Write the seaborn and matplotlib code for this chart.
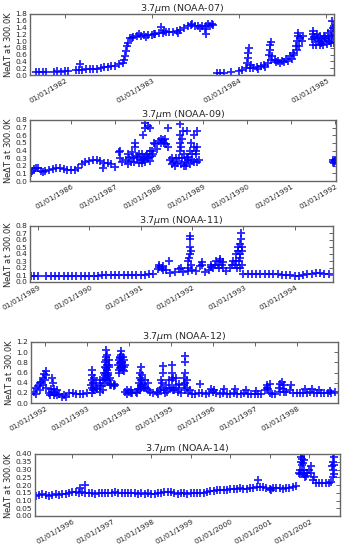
import numpy as np
import pandas as pd
import matplotlib
matplotlib.use('Agg')
import matplotlib.pyplot as plt
import matplotlib.dates as mdates
import matplotlib.transforms as mtransforms
from matplotlib.ticker import MultipleLocator, FormatStrFormatter
import seaborn as sns

nan = np.nan

# NOAA-07, sampled twice a month (1st and 15th) from 1981-09-01
n07_start = '1981-09-01'
n07_vals = [
    0.09, 0.08, 0.09, 0.09, nan, 0.10, 0.11, 0.10,                       # 1981 Sep-Dec
    0.11, 0.12, nan, 0.14, 0.15, 0.16, 0.17, 0.17, 0.18, 0.19, 0.20, 0.24,
    0.25, 0.26, 0.28, 0.32, 0.36, 0.70, 1.08, 1.13, 1.15, 1.16, 1.17, 1.17,  # 1982
    1.18, 1.20, 1.24, 1.25, 1.26, 1.27, 1.27, 1.30, 1.33, 1.40, 1.45, 1.47,
    1.46, 1.44, 1.45, 1.44, 1.45, 1.47, 0.07, 0.06, 0.06, nan, 0.08, nan,    # 1983
    0.12, 0.16, 0.22, 0.22, 0.22, 0.23, 0.26, 0.30, 0.35, 0.45, 0.45, 0.42,
    0.42, 0.47, 0.55, 0.65, 0.75, 1.10, nan, nan, 1.05, 1.05, 1.00, 1.00,    # 1984
    1.05, 1.10, 1.15,                                                    # 1985
]
n07_extra_t = ['1982-03-07', '1982-09-08', '1982-09-10', '1982-09-20', '1982-09-24',
               '1982-10-08', '1982-11-08', '1982-12-08', '1983-01-08', '1983-02-10',
               '1983-02-20', '1983-04-20', '1983-06-20', '1983-07-20', '1983-08-10',
               '1983-08-15', '1983-08-25', '1983-09-10',
               '1984-02-05', '1984-02-08', '1984-02-10', '1984-02-12', '1984-02-20',
               '1984-05-08', '1984-05-10', '1984-05-12', '1984-05-14', '1984-05-20',
               '1984-06-05', '1984-07-10', '1984-08-10', '1984-08-20', '1984-08-28',
               '1984-09-01', '1984-09-03', '1984-09-05', '1984-09-10', '1984-09-20',
               '1984-09-25', '1984-11-05', '1984-11-06', '1984-11-08', '1984-11-20',
               '1984-11-22', '1984-12-05', '1984-12-08', '1984-12-20', '1984-12-22',
               '1985-01-05', '1985-01-08', '1985-01-20', '1985-01-22', '1985-01-25',
               '1985-01-28', '1985-02-01', '1985-02-02',
               '1984-11-10', '1984-11-28', '1984-12-12', '1984-12-28', '1985-01-12',
               '1985-01-26', '1984-06-20', '1984-07-25', '1984-03-20', '1984-04-20']
n07_extra_v = [0.33, 0.45, 0.55, 0.85, 0.95,
               1.10, 1.20, 1.12, 1.22, 1.43,
               1.30, 1.25, 1.50, 1.40, 1.35,
               1.20, 1.50, 1.50,
               0.35, 0.50, 0.65, 0.80, 0.30,
               0.60, 0.75, 0.90, 0.98, 0.55,
               0.38, 0.38, 0.48, 0.60, 0.85,
               1.00, 1.15, 1.25, 0.85, 1.00,
               1.15, 0.90, 1.20, 1.30, 0.90,
               1.20, 0.88, 1.15, 0.90, 1.15,
               0.92, 1.25, 0.95, 1.30, 1.60,
               1.40, 0.95, 1.45,
               1.12, 1.10, 0.95, 1.08, 1.00,
               1.15, 0.36, 0.40, 0.19, 0.24]

# NOAA-09, monthly from 1985-02-01
n09_start = '1985-02-01'
n09_vals = [
    0.10, 0.16, 0.17, 0.13, 0.13, 0.14, 0.16, 0.17, 0.17, 0.16, 0.15,        # 1985
    0.14, 0.15, 0.17, 0.22, 0.25, 0.26, 0.28, 0.28, 0.26, 0.24, 0.23, 0.22,  # 1986
    0.19, 0.38, 0.25, 0.27, 0.30, 0.32, 0.30, 0.28, 0.30, 0.32, 0.40, 0.48,  # 1987
    0.53, 0.54, 0.48, 0.27, 0.25, 0.24, 0.45, 0.25, 0.28, 0.35, 0.35,        # 1988
]
n09_extra_t = ['1985-02-15', '1985-03-15', '1985-05-15', '1986-09-20',
               '1987-02-10', '1987-02-12', '1987-04-15', '1987-04-20', '1987-05-15',
               '1987-05-20', '1987-06-10', '1987-06-15', '1987-06-20', '1987-07-15',
               '1987-07-20', '1987-08-10', '1987-08-15', '1987-08-20', '1987-09-05',
               '1987-09-08', '1987-09-10', '1987-09-25', '1987-09-28', '1987-10-15',
               '1987-10-18', '1987-10-20', '1987-11-15', '1987-11-18', '1987-12-15',
               '1988-01-15', '1988-01-18', '1988-02-15', '1988-02-18', '1988-03-15',
               '1988-03-18', '1988-04-15', '1988-04-18', '1988-05-15', '1988-05-18',
               '1988-06-18', '1988-06-20', '1988-06-22', '1988-06-24', '1988-06-26',
               '1988-07-10', '1988-07-12', '1988-07-14', '1988-07-25', '1988-07-28',
               '1988-08-15', '1988-08-18', '1988-08-20', '1988-09-15', '1988-09-18',
               '1988-09-20', '1988-10-15', '1988-10-18', '1988-10-20', '1988-11-10',
               '1988-11-12', '1988-11-14', '1988-11-25',
               '1991-12-15', '1991-12-17', '1991-12-25', '1991-12-27', '1992-01-01',
               '1987-07-05', '1987-08-25', '1987-09-15', '1987-10-05', '1987-11-01',
               '1988-06-28', '1988-09-01', '1988-10-01', '1988-11-01']
n09_extra_v = [0.13, 0.17, 0.12, 0.17,
               0.30, 0.40, 0.22, 0.35, 0.25,
               0.38, 0.25, 0.45, 0.50, 0.24,
               0.36, 0.23, 0.35, 0.60, 0.25,
               0.70, 0.76, 0.36, 0.72, 0.26,
               0.40, 0.70, 0.35, 0.50, 0.42,
               0.50, 0.55, 0.50, 0.55, 0.45,
               0.70, 0.22, 0.30, 0.20, 0.30,
               0.30, 0.40, 0.50, 0.60, 0.75,
               0.30, 0.55, 0.65, 0.20, 0.35,
               0.20, 0.30, 0.65, 0.22, 0.40,
               0.50, 0.25, 0.45, 0.60, 0.25,
               0.45, 0.65, 0.28,
               0.25, 0.28, 0.24, 0.27, 0.26,
               0.33, 0.28, 0.33, 0.30, 0.33,
               0.22, 0.32, 0.28, 0.40]

# NOAA-11, monthly from 1988-12-01
n11_start = '1988-12-01'
n11_vals = [
    0.09,                                                                    # 1988 Dec
    0.09, nan, 0.08, 0.08, 0.08, 0.08, 0.08, 0.08, 0.09, 0.09, 0.09, 0.09,   # 1989
    0.09, 0.09, 0.09, 0.10, 0.10, 0.10, 0.10, 0.10, 0.10, 0.10, 0.10, 0.10,  # 1990
    0.10, 0.10, 0.11, 0.12, 0.18, 0.20, 0.17, 0.13, 0.14, 0.18, 0.14, 0.16,  # 1991
    0.17, 0.16, 0.23, 0.15, 0.17, 0.20, 0.24, 0.25, 0.16, 0.20, 0.25, 0.30,  # 1992
    0.12, 0.11, 0.11, 0.11, 0.11, 0.11, 0.11, 0.11, 0.11, 0.10, 0.10, 0.10,  # 1993
    0.09, 0.09, 0.10, 0.11, 0.12, 0.13, 0.13, 0.12, 0.11,                    # 1994
]
n11_extra_t = ['1988-11-10', '1991-05-10', '1991-05-12', '1991-06-10', '1991-06-12',
               '1991-07-20', '1991-10-15', '1991-12-05', '1991-12-07', '1991-12-09',
               '1991-12-15', '1991-12-16', '1991-12-17', '1991-12-18', '1991-12-25',
               '1991-12-27', '1992-03-10', '1992-03-12', '1992-05-15', '1992-05-18',
               '1992-06-15', '1992-06-18', '1992-07-15', '1992-07-18', '1992-07-20',
               '1992-08-10', '1992-08-12', '1992-10-15', '1992-10-18', '1992-11-10',
               '1992-11-12', '1992-11-20', '1992-11-22', '1992-11-24', '1992-12-08',
               '1992-12-09', '1992-12-10', '1992-12-11', '1992-12-12', '1992-12-13',
               '1992-12-20', '1992-12-22', '1992-12-24']
n11_extra_v = [0.09, 0.22, 0.25, 0.17, 0.23,
               0.30, 0.20, 0.20, 0.30, 0.35,
               0.40, 0.50, 0.62, 0.66, 0.25,
               0.45, 0.25, 0.28, 0.22, 0.25,
               0.25, 0.30, 0.20, 0.30, 0.33,
               0.20, 0.28, 0.25, 0.30, 0.30,
               0.40, 0.20, 0.45, 0.50, 0.20,
               0.35, 0.40, 0.55, 0.62, 0.70,
               0.25, 0.45, 0.50]

# NOAA-12, monthly from 1991-09-01
n12_start = '1991-09-01'
n12_vals = [
    0.17, 0.22, 0.33, 0.42,                                                  # 1991
    0.45, 0.20, 0.22, 0.20, 0.17, 0.12, 0.12, 0.20, 0.20, 0.17, 0.17, 0.18,  # 1992
    0.20, 0.35, 0.25, 0.28, 0.33, 0.60, 0.60, 0.35, 0.36, 0.75, 0.80, 0.22,  # 1993
    0.22, 0.20, 0.22, 0.40, 0.38, 0.30, 0.22, 0.20, 0.22, 0.25, 0.25, 0.22,  # 1994
    0.30, 0.25, 0.22, 0.20, 0.25, 0.20, 0.18, 0.18, 0.20, 0.19, 0.18, 0.20,  # 1995
    0.22, 0.20, 0.18, 0.19, 0.18, 0.18, 0.19, 0.17, 0.18, 0.19, 0.18, 0.17,  # 1996
    0.18, 0.17, 0.18, 0.25, 0.27, 0.18, 0.17, 0.30, 0.28, 0.22, 0.25, 0.20,  # 1997
    0.19, 0.20, 0.20, 0.20, 0.21, 0.20, 0.20, 0.20, 0.20, 0.20, 0.20, 0.21,  # 1998
]
n12_extra_t = ['1991-10-15', '1991-10-18', '1991-11-15', '1991-11-18', '1991-12-15',
               '1991-12-17', '1991-12-19', '1992-01-10', '1992-01-12', '1992-01-14',
               '1992-02-15', '1992-02-18', '1992-03-05', '1992-03-07', '1992-03-20',
               '1992-03-22', '1992-04-15', '1992-04-18', '1992-06-15',
               '1993-02-10', '1993-02-11', '1993-02-12', '1993-02-13', '1993-02-25',
               '1993-02-27', '1993-03-20', '1993-03-22', '1993-04-20', '1993-04-21',
               '1993-04-22', '1993-05-20', '1993-05-22',
               '1993-06-08', '1993-06-09', '1993-06-10', '1993-06-11', '1993-06-12',
               '1993-06-13', '1993-06-20', '1993-06-21', '1993-06-22', '1993-07-10',
               '1993-07-11', '1993-07-12', '1993-07-20', '1993-07-22', '1993-08-20',
               '1993-08-22', '1993-10-10', '1993-10-11', '1993-10-12', '1993-10-20',
               '1993-10-21', '1993-10-22', '1993-11-10', '1993-11-12', '1993-11-20',
               '1993-11-22', '1993-12-15', '1993-12-17', '1994-01-15', '1994-01-17',
               '1994-03-15', '1994-03-17',
               '1994-04-10', '1994-04-11', '1994-04-12', '1994-04-13', '1994-04-20',
               '1994-04-22', '1994-05-15', '1994-05-17', '1994-06-15', '1994-06-17',
               '1994-09-15', '1994-10-10', '1994-10-12', '1994-10-20', '1994-10-21',
               '1994-10-22', '1994-11-15', '1994-11-17', '1994-12-15', '1994-12-17',
               '1995-01-10', '1995-01-11', '1995-01-12', '1995-01-20', '1995-01-22',
               '1995-02-15', '1995-02-17', '1995-03-15', '1995-03-17', '1995-04-25',
               '1995-04-27', '1995-05-05', '1995-05-06', '1995-05-07', '1995-05-08',
               '1995-05-20', '1995-05-22',
               '1995-06-15', '1995-09-10', '1995-12-15', '1996-01-15', '1996-04-10',
               '1996-07-15', '1996-10-15', '1997-01-15', '1997-04-15', '1997-04-17',
               '1997-05-15', '1997-05-17', '1997-08-10', '1997-08-12', '1997-08-25',
               '1997-09-15', '1997-09-17', '1997-11-10', '1998-03-15', '1998-05-15',
               '1998-07-15', '1998-10-15',
               '1993-06-05', '1993-06-15', '1993-06-16', '1993-06-17', '1993-06-25',
               '1993-07-05', '1993-07-15', '1993-10-05', '1993-10-15', '1993-10-16',
               '1993-10-17', '1993-10-25', '1993-11-05', '1993-11-15', '1993-11-25',
               '1993-02-15', '1993-02-18', '1994-04-15', '1994-04-17', '1994-04-25']
n12_extra_v = [0.18, 0.30, 0.25, 0.40, 0.35,
               0.50, 0.58, 0.30, 0.55, 0.62,
               0.15, 0.27, 0.50, 0.40, 0.15,
               0.28, 0.15, 0.25, 0.15,
               0.20, 0.45, 0.55, 0.65, 0.25,
               0.50, 0.30, 0.40, 0.22, 0.35,
               0.45, 0.25, 0.45,
               0.40, 0.50, 0.70, 0.80, 0.90,
               1.05, 0.45, 0.75, 0.95, 0.45,
               0.70, 0.85, 0.35, 0.50, 0.33,
               0.37, 0.65, 0.85, 0.90, 0.70,
               0.95, 1.03, 0.65, 0.90, 0.70,
               0.85, 0.18, 0.25, 0.20, 0.25,
               0.20, 0.28,
               0.25, 0.50, 0.60, 0.70, 0.30,
               0.55, 0.30, 0.45, 0.25, 0.40,
               0.18, 0.30, 0.45, 0.40, 0.60,
               0.73, 0.20, 0.35, 0.30, 0.45,
               0.45, 0.60, 0.75, 0.25, 0.50,
               0.35, 0.50, 0.30, 0.38, 0.35,
               0.50, 0.40, 0.60, 0.80, 0.92,
               0.30, 0.45,
               0.25, 0.37, 0.28, 0.25, 0.28,
               0.27, 0.26, 0.24, 0.30, 0.35,
               0.20, 0.37, 0.22, 0.38, 0.41,
               0.22, 0.35, 0.35, 0.27, 0.27,
               0.25, 0.23,
               0.55, 0.60, 0.68, 0.85, 0.65,
               0.55, 0.75, 0.60, 0.68, 0.78,
               0.88, 0.80, 0.72, 0.62, 0.75,
               0.30, 0.40, 0.35, 0.45, 0.33]

# NOAA-14, monthly from 1995-02-01
n14_start = '1995-02-01'
n14_vals = [
    0.130, 0.135, 0.140, 0.135, 0.130, 0.135, 0.140, 0.135, 0.140, 0.145, 0.150,         # 1995
    0.155, 0.155, 0.150, 0.155, 0.150, 0.150, 0.150, 0.145, 0.150, 0.150, 0.150, 0.150,  # 1996
    0.150, 0.155, 0.150, 0.150, 0.150, 0.150, 0.150, 0.150, 0.145, 0.150, 0.145, 0.150,  # 1997
    0.145, 0.145, 0.150, 0.150, 0.155, 0.155, 0.155, 0.150, 0.145, 0.150, 0.150, 0.145,  # 1998
    0.150, 0.150, 0.150, 0.150, 0.150, 0.155, 0.160, 0.160, 0.165, 0.165, 0.170, 0.170,  # 1999
    0.175, 0.175, 0.175, 0.180, 0.175, 0.175, 0.180, 0.180, 0.185, 0.185, 0.185, 0.180,  # 2000
    0.175, 0.180, 0.180, 0.180, 0.175, 0.180, 0.180, 0.190, 0.195, 0.280, 0.340, 0.260,  # 2001
    0.300, 0.230, 0.215, 0.215, 0.210, 0.215, 0.215, 0.320,                              # 2002
]
n14_extra_t = ['1996-03-15', '1996-05-01', '2000-09-15', '2001-01-15',
               '2001-10-10', '2001-10-11', '2001-10-12', '2001-10-13', '2001-10-14',
               '2001-10-25', '2001-10-26', '2001-10-27', '2001-10-28', '2001-11-10',
               '2001-11-11', '2001-11-12', '2001-11-13', '2001-11-25', '2001-12-15',
               '2002-01-15', '2002-01-17', '2002-02-15', '2002-07-20',
               '2002-08-05', '2002-08-06', '2002-08-07', '2002-08-08', '2002-08-20',
               '2002-08-21', '2002-08-22']
n14_extra_v = [0.18, 0.20, 0.23, 0.165,
               0.27, 0.30, 0.35, 0.38, 0.40,
               0.28, 0.33, 0.37, 0.40, 0.27,
               0.30, 0.36, 0.40, 0.25, 0.28,
               0.28, 0.32, 0.25, 0.22,
               0.25, 0.30, 0.35, 0.40, 0.27,
               0.33, 0.38]

titles = ['3.7$\\mu$m (NOAA-07)', '3.7$\\mu$m (NOAA-09)', '3.7$\\mu$m (NOAA-11)',
          '3.7$\\mu$m (NOAA-12)', '3.7$\\mu$m (NOAA-14)']

W, H = 343, 550


def px_rect(l, t, r, b):
    return [l / W, 1 - b / H, (r - l) / W, (b - t) / H]


panels = [
    (n07_start, 'SMS', n07_vals, n07_extra_t, n07_extra_v,
     ('1981-08-08', '1985-02-03'), 1.8, 0.2, '%.1f', px_rect(30, 14, 334, 75)),
    (n09_start, 'MS', n09_vals, n09_extra_t, n09_extra_v,
     ('1985-01-26', '1992-01-08'), 0.8, 0.1, '%.1f', px_rect(30, 120, 336, 181)),
    (n11_start, 'MS', n11_vals, n11_extra_t, n11_extra_v,
     ('1988-11-04', '1994-10-01'), 0.8, 0.1, '%.1f', px_rect(30, 226, 333, 282)),
    (n12_start, 'MS', n12_vals, n12_extra_t, n12_extra_v,
     ('1991-09-01', '1998-12-28'), 1.2, 0.2, '%.1f', px_rect(31, 342, 338, 403)),
    (n14_start, 'MS', n14_vals, n14_extra_t, n14_extra_v,
     ('1995-01-22', '2002-10-12'), 0.4, 0.05, '%.2f', px_rect(35, 454, 340, 516)),
]

sns.set_style('white')
plt.rcParams['font.family'] = ['DejaVu Sans']

fig = plt.figure(figsize=(W / 100, H / 100), dpi=100)
shift = mtransforms.ScaledTranslation(4 / 100, 0, fig.dpi_scale_trans)

for title, (start, freq, vals, ext_t, ext_v, xlim, ymax, ystep, yfmt, rect) in zip(titles, panels):
    ax = fig.add_axes(rect)
    dates = list(pd.date_range(start, periods=len(vals), freq=freq)) + list(pd.to_datetime(ext_t))
    df = pd.DataFrame({'date': dates, 'val': list(vals) + list(ext_v)}).dropna()
    sns.scatterplot(data=df, x='date', y='val', ax=ax, marker='+', color='blue',
                    s=26, linewidth=1.3, alpha=0.85, legend=False)
    ax.set_xlim(pd.Timestamp(xlim[0]), pd.Timestamp(xlim[1]))
    ax.set_ylim(0, ymax)
    ax.yaxis.set_major_locator(MultipleLocator(ystep))
    ax.yaxis.set_major_formatter(FormatStrFormatter(yfmt))
    ax.xaxis.set_major_locator(mdates.YearLocator())
    ax.xaxis.set_major_formatter(mdates.DateFormatter('%m/%d/%Y'))
    ax.tick_params(direction='in', top=True, right=True, length=3, width=0.6,
                   labelsize=5.4, pad=2, color='0.3')
    for lab in ax.get_xticklabels():
        lab.set_rotation(30)
        lab.set_ha('right')
        lab.set_transform(lab.get_transform() + shift)
    for sp in ax.spines.values():
        sp.set_color('0.4')
        sp.set_linewidth(1.0)
    ax.set_xlabel('')
    ax.set_ylabel('Ne$\\Delta$T at 300.0K', fontsize=6, labelpad=2)
    ax.set_title(title, fontsize=6.8, pad=2)

fig.savefig('out.png', dpi=100)
